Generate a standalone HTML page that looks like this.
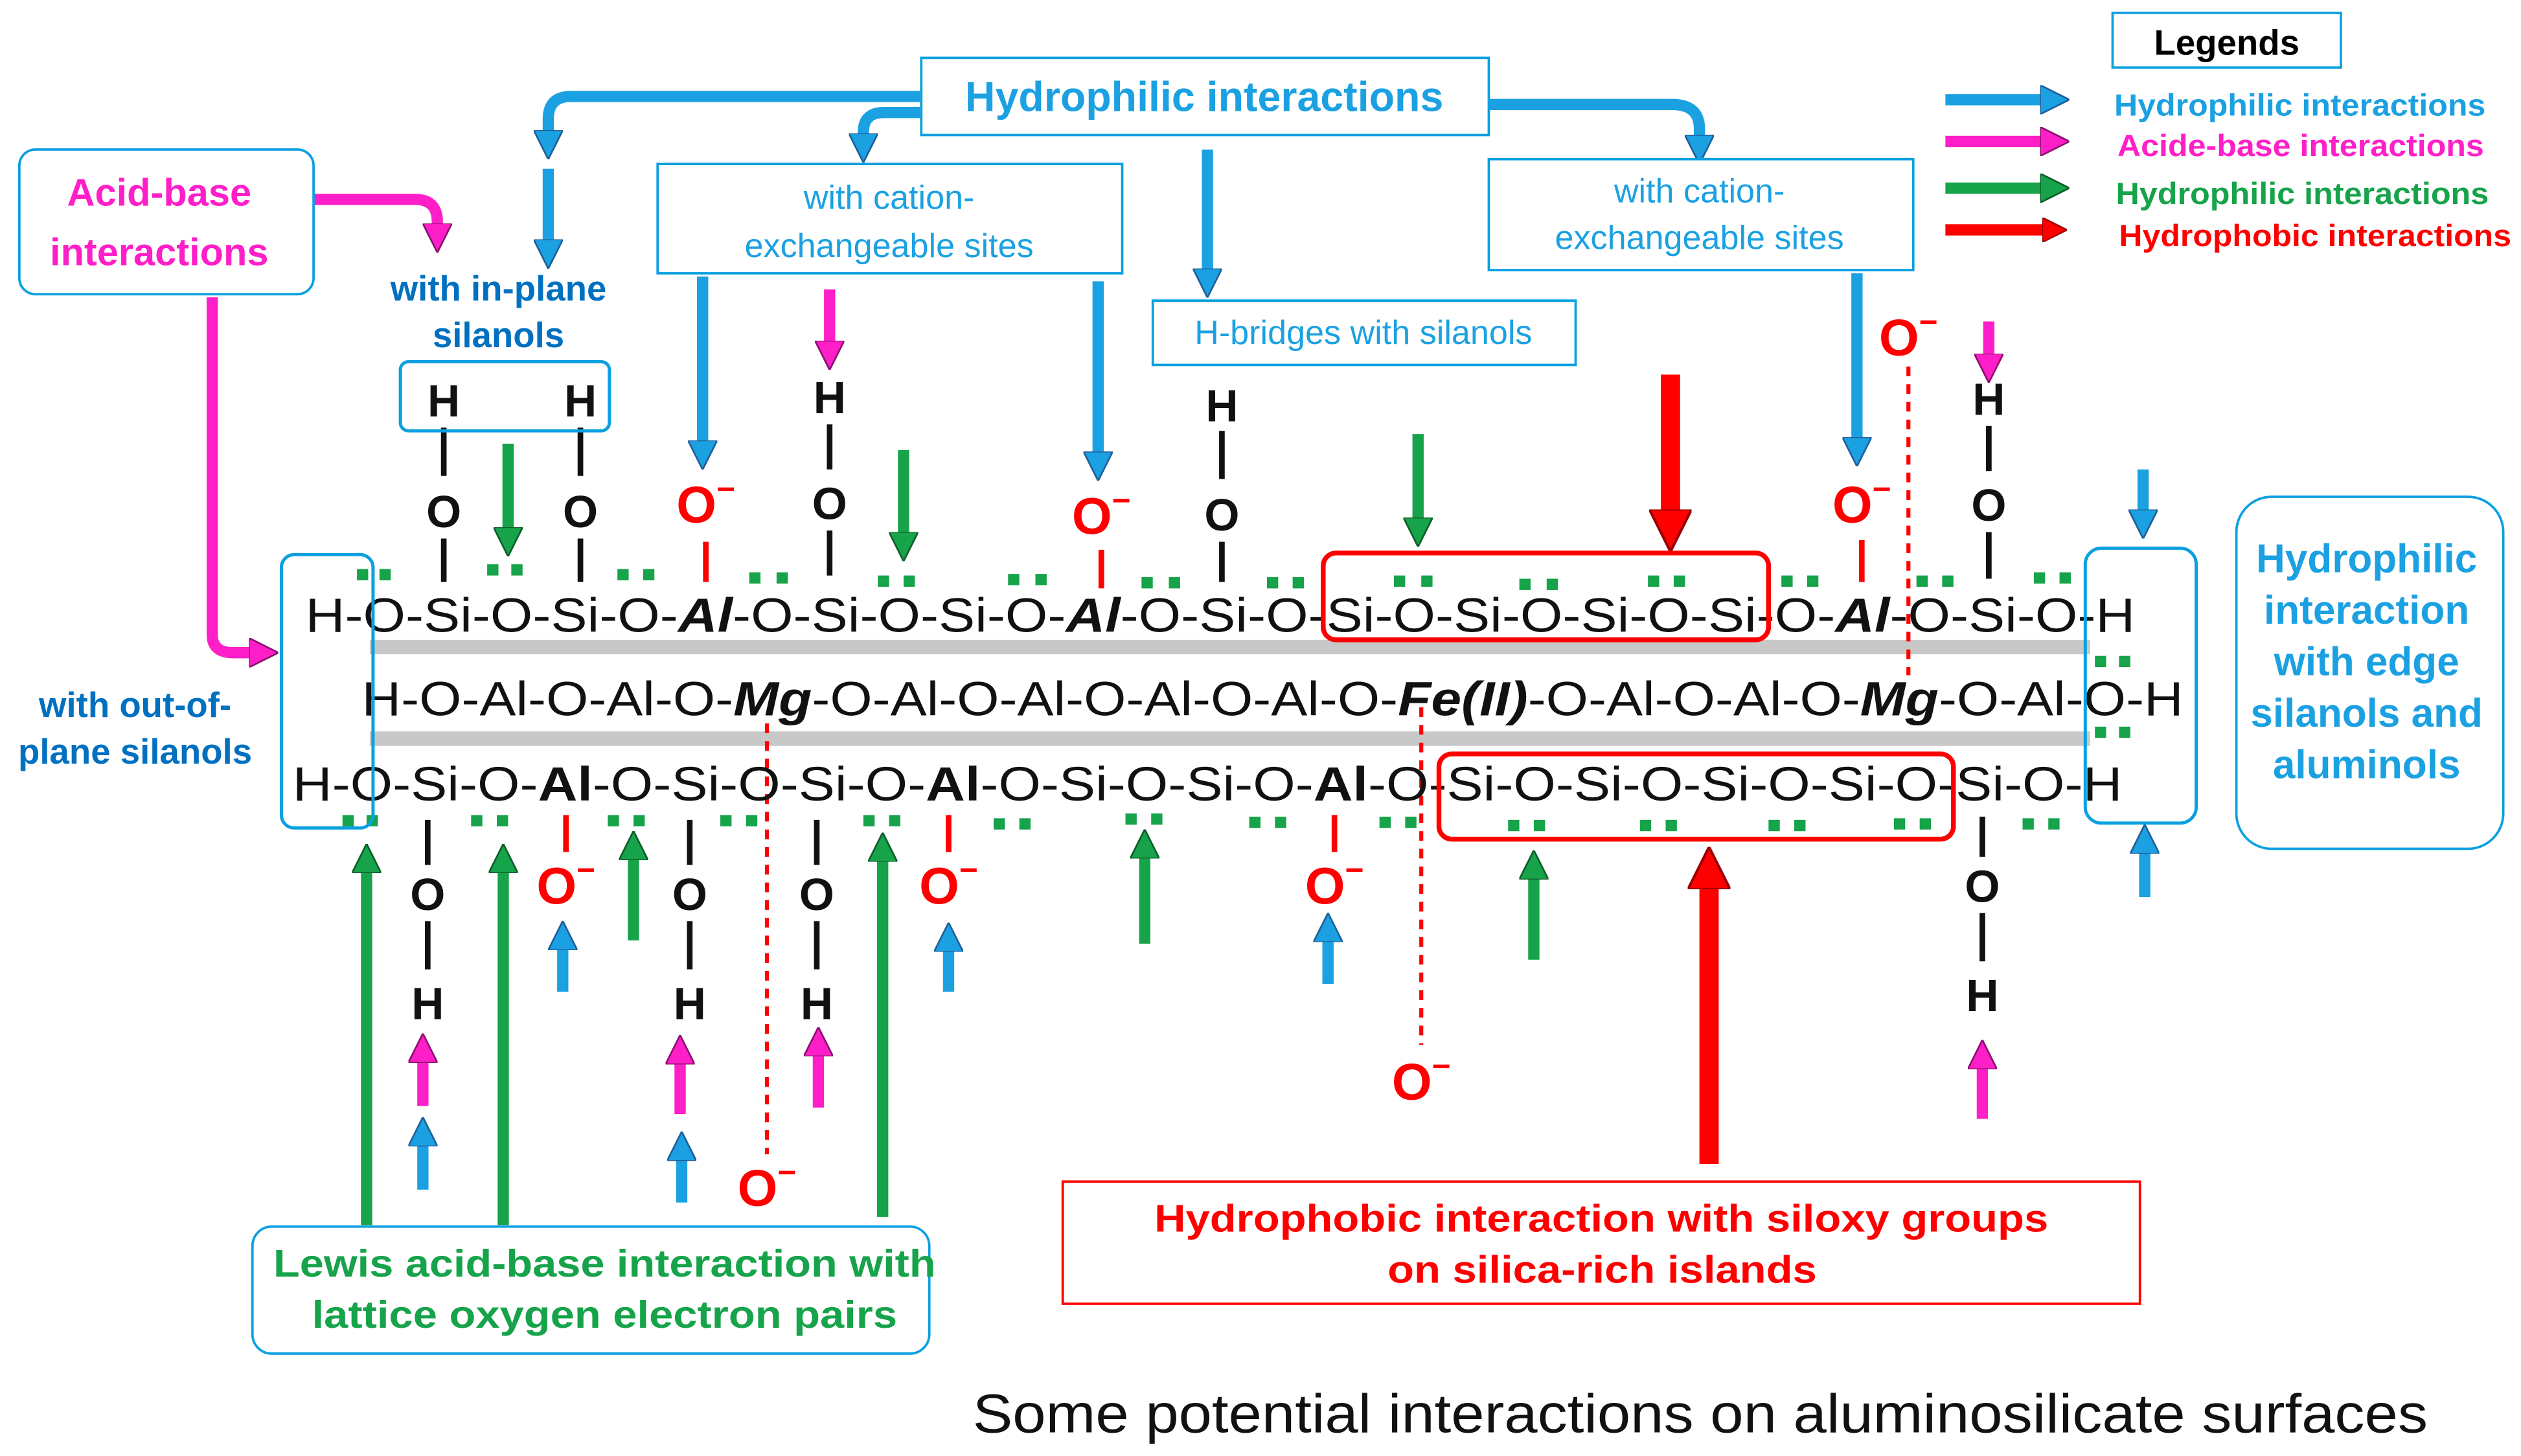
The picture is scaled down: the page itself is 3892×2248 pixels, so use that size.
<!DOCTYPE html>
<html><head><meta charset="utf-8"><style>
html,body{margin:0;padding:0;background:#fff;}
svg{display:block;}
text{font-family:"Liberation Sans",Arial,sans-serif;}
</style></head><body>
<svg width="3892" height="2248" viewBox="0 0 1568 905.7" xmlns="http://www.w3.org/2000/svg">
<defs>
<marker id="hb" viewBox="0 0 10 10" refX="5" refY="5" markerWidth="2.6" markerHeight="2.6" orient="auto"><path d="M0,0 L10,5 L0,10 z" fill="#1ba1e2" stroke="#1f5f99" stroke-width="0.6"/></marker>
<marker id="hm" viewBox="0 0 10 10" refX="5" refY="5" markerWidth="2.6" markerHeight="2.6" orient="auto"><path d="M0,0 L10,5 L0,10 z" fill="#ff1fc8" stroke="#8a1070" stroke-width="0.6"/></marker>
<marker id="hg" viewBox="0 0 10 10" refX="5" refY="5" markerWidth="2.6" markerHeight="2.6" orient="auto"><path d="M0,0 L10,5 L0,10 z" fill="#16a34a" stroke="#0d5e2a" stroke-width="0.6"/></marker>
<marker id="hr" viewBox="0 0 10 10" refX="5" refY="5" markerWidth="2.2" markerHeight="2.2" orient="auto"><path d="M0,0 L10,5 L0,10 z" fill="#ff0000" stroke="#900" stroke-width="0.6"/></marker>
</defs>

<rect x="230" y="398" width="1070" height="9" fill="#c8c8c8"/>
<rect x="230" y="455" width="1070" height="9" fill="#c8c8c8"/>

<rect x="1314" y="8" width="142" height="34" fill="#fff" stroke="#0aa0e0" stroke-width="1.5"/>
<text x="1385" y="34" font-size="22" font-weight="bold" text-anchor="middle">Legends</text>
<g stroke-width="7" fill="none">
<line x1="1210" y1="62" x2="1278" y2="62" stroke="#1ba1e2" marker-end="url(#hb)"/>
<line x1="1210" y1="88" x2="1278" y2="88" stroke="#ff1fc8" marker-end="url(#hm)"/>
<line x1="1210" y1="117" x2="1278" y2="117" stroke="#16a34a" marker-end="url(#hg)"/>
<line x1="1210" y1="143" x2="1278" y2="143" stroke="#ff0000" marker-end="url(#hr)"/>
</g>
<g font-size="19" font-weight="bold">
<text x="1315" y="72" fill="#1ba1e2" textLength="231" lengthAdjust="spacingAndGlyphs">Hydrophilic interactions</text>
<text x="1317" y="97" fill="#ff1fc8" textLength="228" lengthAdjust="spacingAndGlyphs">Acide-base interactions</text>
<text x="1316" y="127" fill="#16a34a" textLength="232" lengthAdjust="spacingAndGlyphs">Hydrophilic interactions</text>
<text x="1318" y="153" fill="#ff0000" textLength="244" lengthAdjust="spacingAndGlyphs">Hydrophobic interactions</text>
</g>

<rect x="573" y="36" width="353" height="48" fill="#fff" stroke="#0aa0e0" stroke-width="1.5"/>
<text x="749" y="69" font-size="26" font-weight="bold" fill="#1ba1e2" text-anchor="middle">Hydrophilic interactions</text>

<g stroke="#1ba1e2" stroke-width="7" fill="none">
<path d="M573,60 L355,60 Q341,60 341,74 L341,90" marker-end="url(#hb)"/>
<path d="M573,70 L550,70 Q537,70 537,82 L537,92" marker-end="url(#hb)"/>
<path d="M926,65 L1040,65 Q1057,65 1057,80 L1057,93" marker-end="url(#hb)"/>
<line x1="341" y1="105" x2="341" y2="158" marker-end="url(#hb)"/>
<line x1="751" y1="93" x2="751" y2="176" marker-end="url(#hb)"/>
<line x1="437" y1="172" x2="437" y2="283" marker-end="url(#hb)"/>
<line x1="683" y1="175" x2="683" y2="290" marker-end="url(#hb)"/>
<line x1="1155" y1="170" x2="1155" y2="281" marker-end="url(#hb)"/>
<line x1="1333" y1="292" x2="1333" y2="326" marker-end="url(#hb)"/>
<line x1="350" y1="617" x2="350" y2="582" marker-end="url(#hb)"/>
<line x1="590" y1="617" x2="590" y2="583" marker-end="url(#hb)"/>
<line x1="826" y1="612" x2="826" y2="577" marker-end="url(#hb)"/>
<line x1="263" y1="740" x2="263" y2="704" marker-end="url(#hb)"/>
<line x1="424" y1="748" x2="424" y2="713" marker-end="url(#hb)"/>
<line x1="1334" y1="558" x2="1334" y2="522" marker-end="url(#hb)"/>
</g>

<g stroke="#ff1fc8" stroke-width="7" fill="none">
<path d="M195,124 L258,124 Q272,124 272,138 L272,148" marker-end="url(#hm)"/>
<path d="M132,185 L132,395 Q132,406 145,406 L164,406" marker-end="url(#hm)"/>
<line x1="516" y1="180" x2="516" y2="221" marker-end="url(#hm)"/>
<line x1="1237" y1="200" x2="1237" y2="229" marker-end="url(#hm)"/>
<line x1="263" y1="688" x2="263" y2="652" marker-end="url(#hm)"/>
<line x1="423" y1="693" x2="423" y2="653" marker-end="url(#hm)"/>
<line x1="509" y1="689" x2="509" y2="648" marker-end="url(#hm)"/>
<line x1="1233" y1="696" x2="1233" y2="656" marker-end="url(#hm)"/>
</g>

<g stroke="#16a34a" stroke-width="7" fill="none">
<line x1="316" y1="276" x2="316" y2="337" marker-end="url(#hg)"/>
<line x1="562" y1="280" x2="562" y2="340" marker-end="url(#hg)"/>
<line x1="882" y1="270" x2="882" y2="331" marker-end="url(#hg)"/>
<line x1="228" y1="762" x2="228" y2="534" marker-end="url(#hg)"/>
<line x1="313" y1="762" x2="313" y2="534" marker-end="url(#hg)"/>
<line x1="394" y1="585" x2="394" y2="526" marker-end="url(#hg)"/>
<line x1="549" y1="757" x2="549" y2="527" marker-end="url(#hg)"/>
<line x1="712" y1="587" x2="712" y2="525" marker-end="url(#hg)"/>
<line x1="954" y1="597" x2="954" y2="538" marker-end="url(#hg)"/>
</g>

<g stroke="#ff0000" stroke-width="12" fill="none">
<line x1="1039" y1="233" x2="1039" y2="330" marker-end="url(#hr)"/>
<line x1="1063" y1="724" x2="1063" y2="540" marker-end="url(#hr)"/>
</g>

<g stroke="#ff0000" stroke-width="2.5" stroke-dasharray="6,5" fill="none">
<line x1="1187" y1="228" x2="1187" y2="420"/>
<line x1="477" y1="450" x2="477" y2="718"/>
<line x1="884" y1="440" x2="884" y2="650"/>
</g>
<g stroke="#ff0000" stroke-width="3.5">
<line x1="439" y1="337" x2="439" y2="362"/>
<line x1="685" y1="342" x2="685" y2="366"/>
<line x1="1158" y1="336" x2="1158" y2="362"/>
<line x1="352" y1="507" x2="352" y2="530"/>
<line x1="590" y1="507" x2="590" y2="530"/>
<line x1="830" y1="507" x2="830" y2="530"/>
</g>
<g font-size="32" fill="#ff0000" text-anchor="middle" font-weight="bold">
<text x="1187" y="221">O<tspan font-size="20" dy="-14">−</tspan></text>
<text x="439" y="325">O<tspan font-size="20" dy="-14">−</tspan></text>
<text x="685" y="332">O<tspan font-size="20" dy="-14">−</tspan></text>
<text x="1158" y="325">O<tspan font-size="20" dy="-14">−</tspan></text>
<text x="352" y="562">O<tspan font-size="20" dy="-14">−</tspan></text>
<text x="590" y="562">O<tspan font-size="20" dy="-14">−</tspan></text>
<text x="830" y="562">O<tspan font-size="20" dy="-14">−</tspan></text>
<text x="884" y="684">O<tspan font-size="20" dy="-14">−</tspan></text>
<text x="477" y="750">O<tspan font-size="20" dy="-14">−</tspan></text>
</g>

<g font-size="28" font-weight="bold" text-anchor="middle" fill="#111">
<text x="276" y="259">H</text><text x="276" y="328">O</text>
<text x="361" y="259">H</text><text x="361" y="328">O</text>
<text x="516" y="257">H</text><text x="516" y="323">O</text>
<text x="760" y="262">H</text><text x="760" y="330">O</text>
<text x="1237" y="258">H</text><text x="1237" y="324">O</text>
<text x="266" y="566">O</text><text x="266" y="634">H</text>
<text x="429" y="566">O</text><text x="429" y="634">H</text>
<text x="508" y="566">O</text><text x="508" y="634">H</text>
<text x="1233" y="561">O</text><text x="1233" y="629">H</text>
</g>
<g stroke="#111" stroke-width="3.5">
<line x1="276" y1="266" x2="276" y2="296"/><line x1="276" y1="335" x2="276" y2="362"/>
<line x1="361" y1="266" x2="361" y2="296"/><line x1="361" y1="335" x2="361" y2="362"/>
<line x1="516" y1="264" x2="516" y2="292"/><line x1="516" y1="330" x2="516" y2="358"/>
<line x1="760" y1="268" x2="760" y2="298"/><line x1="760" y1="337" x2="760" y2="362"/>
<line x1="1237" y1="265" x2="1237" y2="293"/><line x1="1237" y1="331" x2="1237" y2="360"/>
<line x1="266" y1="510" x2="266" y2="538"/><line x1="266" y1="573" x2="266" y2="603"/>
<line x1="429" y1="510" x2="429" y2="538"/><line x1="429" y1="573" x2="429" y2="603"/>
<line x1="508" y1="510" x2="508" y2="538"/><line x1="508" y1="573" x2="508" y2="603"/>
<line x1="1233" y1="508" x2="1233" y2="533"/><line x1="1233" y1="568" x2="1233" y2="598"/>
</g>

<rect x="249" y="225" width="130" height="43" rx="5" fill="none" stroke="#0aa0e0" stroke-width="2"/>

<g font-size="30" fill="#111">
<text x="190" y="393" textLength="1138" lengthAdjust="spacingAndGlyphs">H-O-Si-O-Si-O-<tspan font-weight="bold" font-style="italic">Al</tspan>-O-Si-O-Si-O-<tspan font-weight="bold" font-style="italic">Al</tspan>-O-Si-O-Si-O-Si-O-Si-O-Si-O-<tspan font-weight="bold" font-style="italic">Al</tspan>-O-Si-O-H</text>
<text x="225" y="445" textLength="1133" lengthAdjust="spacingAndGlyphs">H-O-Al-O-Al-O-<tspan font-weight="bold" font-style="italic">Mg</tspan>-O-Al-O-Al-O-Al-O-Al-O-<tspan font-weight="bold" font-style="italic">Fe(II)</tspan>-O-Al-O-Al-O-<tspan font-weight="bold" font-style="italic">Mg</tspan>-O-Al-O-H</text>
<text x="182" y="498" textLength="1138" lengthAdjust="spacingAndGlyphs">H-O-Si-O-<tspan font-weight="bold">Al</tspan>-O-Si-O-Si-O-<tspan font-weight="bold">Al</tspan>-O-Si-O-Si-O-<tspan font-weight="bold">Al</tspan>-O-Si-O-Si-O-Si-O-Si-O-Si-O-H</text>
</g>

<g fill="#16a34a">
<rect x="222" y="354" width="7" height="7"/><rect x="236" y="354" width="7" height="7"/>
<rect x="303" y="351" width="7" height="7"/><rect x="318" y="351" width="7" height="7"/>
<rect x="384" y="354" width="7" height="7"/><rect x="400" y="354" width="7" height="7"/>
<rect x="466" y="356" width="7" height="7"/><rect x="483" y="356" width="7" height="7"/>
<rect x="546" y="358" width="7" height="7"/><rect x="562" y="358" width="7" height="7"/>
<rect x="627" y="357" width="7" height="7"/><rect x="644" y="357" width="7" height="7"/>
<rect x="710" y="359" width="7" height="7"/><rect x="727" y="359" width="7" height="7"/>
<rect x="788" y="359" width="7" height="7"/><rect x="804" y="359" width="7" height="7"/>
<rect x="867" y="358" width="7" height="7"/><rect x="884" y="358" width="7" height="7"/>
<rect x="945" y="360" width="7" height="7"/><rect x="962" y="360" width="7" height="7"/>
<rect x="1025" y="358" width="7" height="7"/><rect x="1041" y="358" width="7" height="7"/>
<rect x="1108" y="358" width="7" height="7"/><rect x="1124" y="358" width="7" height="7"/>
<rect x="1192" y="358" width="7" height="7"/><rect x="1208" y="358" width="7" height="7"/>
<rect x="1265" y="356" width="7" height="7"/><rect x="1281" y="356" width="7" height="7"/>
<rect x="1303" y="408" width="7" height="7"/><rect x="1318" y="408" width="7" height="7"/>
<rect x="1303" y="452" width="7" height="7"/><rect x="1318" y="452" width="7" height="7"/>
<rect x="213" y="507" width="7" height="7"/><rect x="228" y="507" width="7" height="7"/>
<rect x="293" y="507" width="7" height="7"/><rect x="309" y="507" width="7" height="7"/>
<rect x="378" y="507" width="7" height="7"/><rect x="394" y="507" width="7" height="7"/>
<rect x="448" y="507" width="7" height="7"/><rect x="464" y="507" width="7" height="7"/>
<rect x="537" y="507" width="7" height="7"/><rect x="553" y="507" width="7" height="7"/>
<rect x="618" y="509" width="7" height="7"/><rect x="634" y="509" width="7" height="7"/>
<rect x="700" y="506" width="7" height="7"/><rect x="716" y="506" width="7" height="7"/>
<rect x="777" y="508" width="7" height="7"/><rect x="793" y="508" width="7" height="7"/>
<rect x="858" y="508" width="7" height="7"/><rect x="874" y="508" width="7" height="7"/>
<rect x="938" y="510" width="7" height="7"/><rect x="954" y="510" width="7" height="7"/>
<rect x="1020" y="510" width="7" height="7"/><rect x="1036" y="510" width="7" height="7"/>
<rect x="1100" y="510" width="7" height="7"/><rect x="1116" y="510" width="7" height="7"/>
<rect x="1178" y="509" width="7" height="7"/><rect x="1194" y="509" width="7" height="7"/>
<rect x="1258" y="509" width="7" height="7"/><rect x="1274" y="509" width="7" height="7"/>
</g>

<rect x="823" y="344" width="277" height="54" rx="8" fill="none" stroke="#ff0000" stroke-width="3"/>
<rect x="895" y="469" width="320" height="53" rx="8" fill="none" stroke="#ff0000" stroke-width="3"/>

<rect x="175" y="345" width="57" height="170" rx="8" fill="none" stroke="#0aa0e0" stroke-width="2"/>
<rect x="1297" y="341" width="69" height="171" rx="10" fill="none" stroke="#0aa0e0" stroke-width="2"/>

<rect x="12" y="93" width="183" height="90" rx="10" fill="#fff" stroke="#0aa0e0" stroke-width="1.5"/>
<g font-size="24" font-weight="bold" fill="#ff1fc8" text-anchor="middle">
<text x="99" y="128">Acid-base</text><text x="99" y="165">interactions</text>
</g>

<g font-size="22" font-weight="bold" fill="#0070c0" text-anchor="middle">
<text x="84" y="446">with out-of-</text><text x="84" y="475">plane silanols</text>
<text x="310" y="187">with in-plane</text><text x="310" y="216">silanols</text>
</g>

<rect x="409" y="102" width="289" height="68" fill="#fff" stroke="#0aa0e0" stroke-width="1.5"/>
<g font-size="21" fill="#1ba1e2" text-anchor="middle">
<text x="553" y="130">with cation-</text><text x="553" y="160">exchangeable sites</text>
</g>
<rect x="926" y="99" width="264" height="69" fill="#fff" stroke="#0aa0e0" stroke-width="1.5"/>
<g font-size="21" fill="#1ba1e2" text-anchor="middle">
<text x="1057" y="126">with cation-</text><text x="1057" y="155">exchangeable sites</text>
</g>
<rect x="717" y="187" width="263" height="40" fill="#fff" stroke="#0aa0e0" stroke-width="1.5"/>
<text x="848" y="214" font-size="21" fill="#1ba1e2" text-anchor="middle">H-bridges with silanols</text>

<rect x="1391" y="309" width="166" height="219" rx="22" fill="#fff" stroke="#0aa0e0" stroke-width="1.5"/>
<g font-size="25" font-weight="bold" fill="#1ba1e2" text-anchor="middle">
<text x="1472" y="356">Hydrophilic</text><text x="1472" y="388">interaction</text><text x="1472" y="420">with edge</text><text x="1472" y="452">silanols and</text><text x="1472" y="484">aluminols</text>
</g>

<rect x="661" y="735" width="670" height="76" fill="#fff" stroke="#ff0000" stroke-width="1.5"/>
<g font-size="24" font-weight="bold" fill="#ff0000">
<text x="718" y="766" textLength="556" lengthAdjust="spacingAndGlyphs">Hydrophobic interaction with siloxy groups</text><text x="863" y="798" textLength="267" lengthAdjust="spacingAndGlyphs">on silica-rich islands</text>
</g>

<rect x="157" y="763" width="421" height="79" rx="12" fill="#fff" stroke="#0aa0e0" stroke-width="1.5"/>
<g font-size="24" font-weight="bold" fill="#16a34a">
<text x="170" y="794" textLength="412" lengthAdjust="spacingAndGlyphs">Lewis acid-base interaction with</text><text x="194" y="826" textLength="364" lengthAdjust="spacingAndGlyphs">lattice oxygen electron pairs</text>
</g>

<text x="605" y="891" font-size="34" fill="#111" textLength="905" lengthAdjust="spacingAndGlyphs">Some potential interactions on aluminosilicate surfaces</text>
</svg>
</body></html>
